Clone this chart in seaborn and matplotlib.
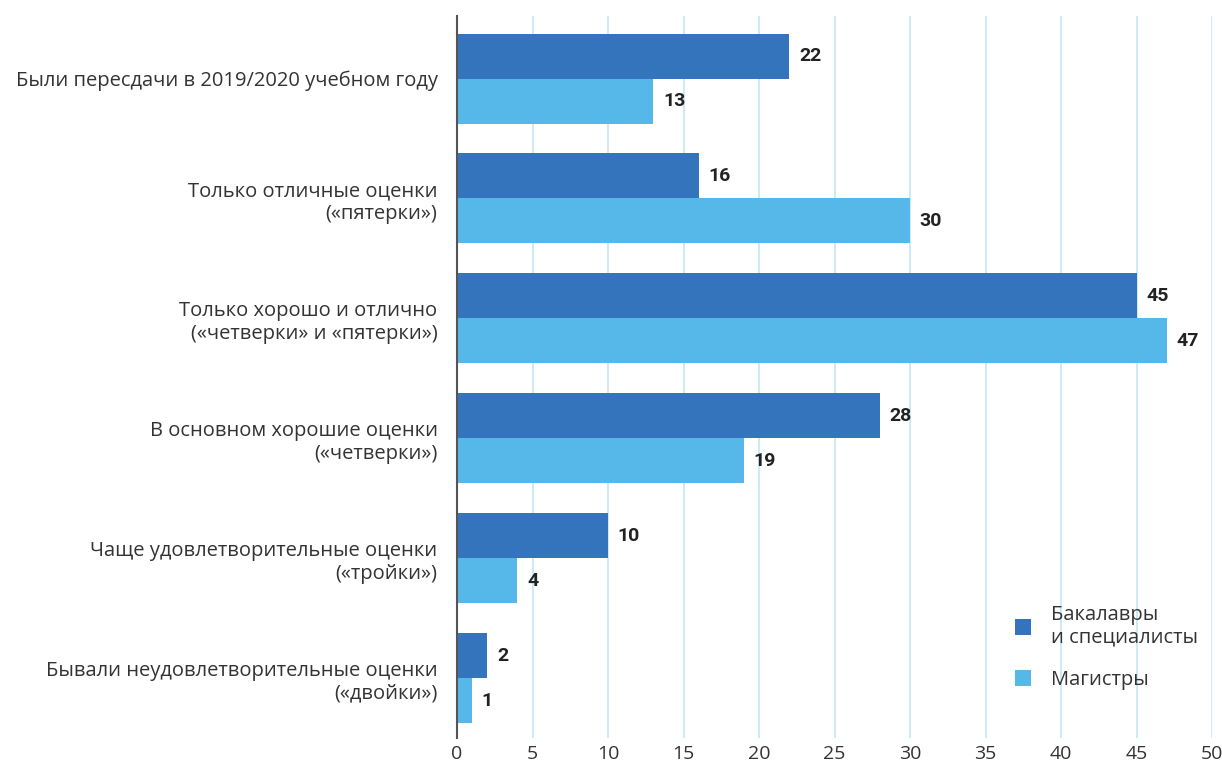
import matplotlib
matplotlib.use("Agg")
import matplotlib.pyplot as plt
import seaborn as sns
import pandas as pd
from matplotlib.patches import Patch

categories = [
    "Были пересдачи в 2019/2020 учебном году",
    "Только отличные оценки\n(«пятерки»)",
    "Только хорошо и отлично\n(«четверки» и «пятерки»)",
    "В основном хорошие оценки\n(«четверки»)",
    "Чаще удовлетворительные оценки\n(«тройки»)",
    "Бывали неудовлетворительные оценки\n(«двойки»)",
]
series_names = ["Бакалавры\nи специалисты", "Магистры"]
bachelors = [22, 16, 45, 28, 10, 2]
masters = [13, 30, 47, 19, 4, 1]
x_ticks = [0, 5, 10, 15, 20, 25, 30, 35, 40, 45, 50]

colors = ["#3474BC", "#55B8E8"]

sns.set_theme(style="white")
plt.rcParams["font.family"] = ["Open Sans", "DejaVu Sans"]

df = pd.DataFrame({
    "category": categories * 2,
    "series": [series_names[0]] * len(categories) + [series_names[1]] * len(categories),
    "value": bachelors + masters,
})

fig = plt.figure(figsize=(12.22, 7.69), dpi=100)
ax = fig.add_axes([0.374, 0.040, 0.618, 0.939])

sns.barplot(data=df, y="category", x="value", hue="series", order=categories,
            hue_order=series_names, palette=colors, orient="h", width=0.75,
            saturation=1, ax=ax, legend=False, zorder=3, linewidth=0)

for cont in ax.containers:
    ax.bar_label(cont, padding=7, fontsize=14, fontweight="bold", color="#222222",
                 family=["Roboto", "DejaVu Sans"])

ax.set_xlim(0, 50)
ax.set_ylim(5.5, -0.52)
ax.set_xticks(x_ticks)
ax.set_xticklabels([str(t) for t in x_ticks], fontsize=14, color="#333333")
ax.tick_params(axis="x", length=0, pad=5)
ax.tick_params(axis="y", length=0, pad=14)
for lab in ax.get_yticklabels():
    lab.set_fontsize(14.5)
    lab.set_color("#333333")
    lab.set_horizontalalignment("right")
    lab.set_linespacing(1.2)
ax.set_xlabel("")
ax.set_ylabel("")

ax.xaxis.grid(True, color="#C5E6F5", linewidth=1.2, zorder=0)
ax.yaxis.grid(False)
for s in ["top", "right", "bottom"]:
    ax.spines[s].set_visible(False)
ax.spines["left"].set_color("#555555")
ax.spines["left"].set_linewidth(1.5)
ax.spines["left"].set_zorder(5)

handles = [Patch(facecolor=c, edgecolor="none") for c in colors]
leg = fig.legend(handles, series_names, loc="lower right",
                 bbox_to_anchor=(1198 / 1222, 1 - 690 / 769),
                 frameon=False, fontsize=14.5, handlelength=0.8, handleheight=0.8,
                 labelspacing=1.1, handletextpad=1.0, borderaxespad=0, borderpad=0)
for t in leg.get_texts():
    t.set_color("#333333")
    t.set_linespacing(1.2)

fig.savefig("out.png", dpi=100)
